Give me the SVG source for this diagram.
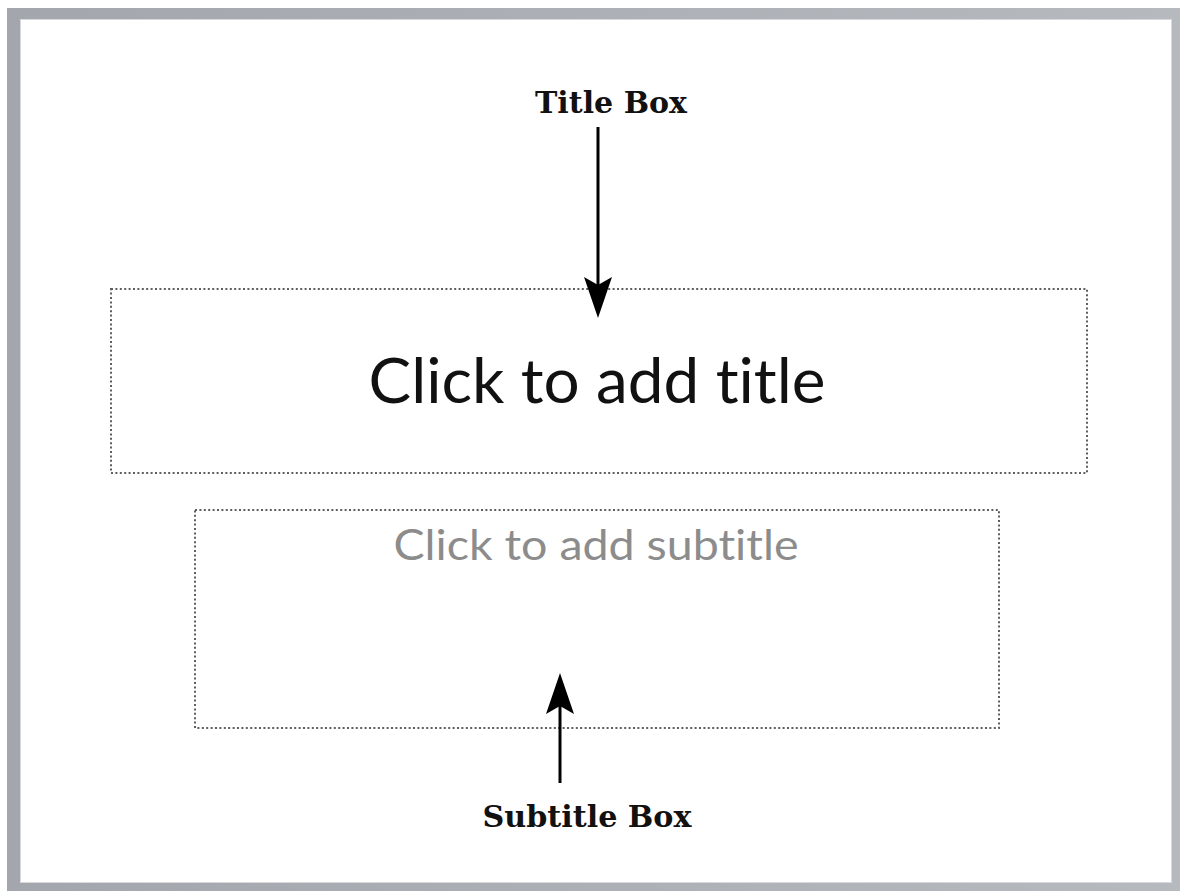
<svg xmlns="http://www.w3.org/2000/svg" width="1182" height="893" viewBox="0 0 1182 893">
  <style>
    .placeholder { fill: none; stroke: #5e5e5e; stroke-width: 2; stroke-dasharray: 2 2.4; }
    .label { font-family: "DejaVu Serif", "Liberation Serif", serif; font-weight: bold; font-size: 29px; fill: #111; }
    .body { font-family: Lato, "Open Sans", sans-serif; font-variant-ligatures: none; font-feature-settings: "liga" 0, "clig" 0; }
    .conn { stroke: #000; stroke-width: 3; fill: none; }
  </style>
  <defs>
    <linearGradient id="frameH" x1="0" y1="0" x2="1" y2="0">
      <stop offset="0" stop-color="#a3a7ad"/>
      <stop offset="1" stop-color="#b6b9be"/>
    </linearGradient>
    <marker id="arrow" viewBox="0 0 42 30" refX="20" refY="15" markerWidth="42" markerHeight="30" markerUnits="userSpaceOnUse" orient="auto">
      <path d="M41,15 L0,1 L8,15 L0,29 Z" fill="#000"/>
    </marker>
  </defs>
  <rect x="0" y="0" width="1182" height="893" fill="#ffffff"/>
  <g id="slide">
    <rect x="7" y="8" width="1173" height="883" fill="url(#frameH)"/>
    <rect x="20" y="19" width="1152" height="864" fill="#d6d8db"/>
    <rect x="21" y="20" width="1150" height="862" fill="#ffffff"/>
  </g>
  <g id="title-box">
    <rect class="placeholder" x="111" y="289" width="976" height="184"/>
    <text class="body" x="597" y="403" text-anchor="middle" font-size="62" fill="#111" textLength="457" lengthAdjust="spacingAndGlyphs">Click to add title</text>
  </g>
  <g id="subtitle-box">
    <rect class="placeholder" x="195" y="510" width="804" height="218"/>
    <text class="body" x="596" y="560" text-anchor="middle" font-size="42" fill="#8c8c8c" textLength="405" lengthAdjust="spacingAndGlyphs">Click to add subtitle</text>
  </g>
  <g id="title-label">
    <text class="label" x="611" y="113" text-anchor="middle" textLength="152" lengthAdjust="spacingAndGlyphs">Title Box</text>
  </g>
  <g id="subtitle-label">
    <text class="label" x="587" y="827" text-anchor="middle" textLength="209" lengthAdjust="spacingAndGlyphs">Subtitle Box</text>
  </g>
  <g id="connectors">
    <line class="conn" x1="598" y1="127" x2="598" y2="297" marker-end="url(#arrow)"/>
    <line class="conn" x1="560" y1="783" x2="560" y2="694" marker-end="url(#arrow)"/>
  </g>
</svg>
